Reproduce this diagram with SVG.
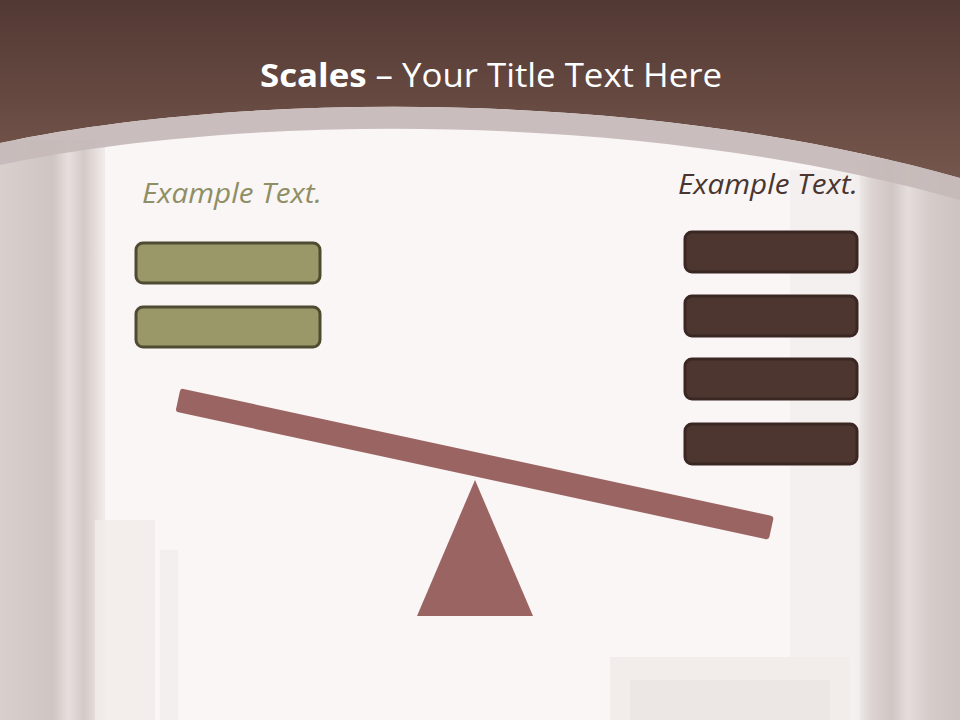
<svg xmlns="http://www.w3.org/2000/svg" width="960" height="720" viewBox="0 0 960 720">
<defs>
<linearGradient id="hdr" x1="0" y1="0" x2="0" y2="1">
<stop offset="0" stop-color="#523933"/>
<stop offset="1" stop-color="#7a5a50"/>
</linearGradient>
<linearGradient id="leftTex" x1="0" y1="0" x2="1" y2="0">
<stop offset="0" stop-color="#d9d0ce"/>
<stop offset="0.3" stop-color="#d3c9c7"/>
<stop offset="0.5" stop-color="#cfc5c3"/>
<stop offset="0.65" stop-color="#e6dfdd"/>
<stop offset="0.8" stop-color="#d4cac8"/>
<stop offset="1" stop-color="#f1ecea"/>
</linearGradient>
<linearGradient id="rightTex" x1="0" y1="0" x2="1" y2="0">
<stop offset="0" stop-color="#f3efee"/>
<stop offset="0.15" stop-color="#ddd5d3"/>
<stop offset="0.35" stop-color="#d0c6c4"/>
<stop offset="0.5" stop-color="#e4dddb"/>
<stop offset="0.7" stop-color="#d6cdcb"/>
<stop offset="1" stop-color="#cdc3c1"/>
</linearGradient>
<style>
.tl{font-family:"Open Sans","Liberation Sans",sans-serif;fill:#ffffff;font-size:33px}
.ex{font-family:"Open Sans","Liberation Sans",sans-serif;font-style:italic;font-size:27px}
.gb{fill:#9a9868;stroke:#4f4b32;stroke-width:3}
.bb{fill:#4e3630;stroke:#3a2622;stroke-width:3}
.sc{fill:#9a6462}
</style>
</defs>
<rect width="960" height="720" fill="#f9f6f5"/>
<!-- background texture -->
<rect x="0" y="140" width="105" height="580" fill="url(#leftTex)"/>
<rect x="95" y="520" width="60" height="200" fill="#f1ecea" opacity="0.8"/>
<rect x="160" y="550" width="18" height="170" fill="#f3efee"/>
<rect x="855" y="160" width="105" height="560" fill="url(#rightTex)"/>
<rect x="790" y="170" width="70" height="550" fill="#f3efee" opacity="0.8"/>
<rect x="610" y="657" width="240" height="63" fill="#f2edeb"/>
<rect x="630" y="680" width="200" height="40" fill="#e9e3e1" opacity="0.7"/>
<!-- header -->
<path d="M0,0 H960 V200 L960,178 C650,90 250,90 0,143 Z" fill="url(#hdr)"/>
<path d="M0,143 C250,90 650,90 960,178 L960,200 C650,112 250,112 0,165 Z" fill="#c6bbb9" opacity="0.95"/>
<text class="tl" x="491" y="87" text-anchor="middle" textLength="462" lengthAdjust="spacingAndGlyphs"><tspan font-weight="bold">Scales</tspan> – Your Title Text Here</text>
<g id="left-label"><text class="ex" x="232" y="203" text-anchor="middle" fill="#8f8e64" textLength="180" lengthAdjust="spacingAndGlyphs">Example Text.</text></g>
<g id="right-label"><text class="ex" x="768" y="194" text-anchor="middle" fill="#4a3530" textLength="180" lengthAdjust="spacingAndGlyphs">Example Text.</text></g>
<g id="left-box-1"><rect class="gb" x="136" y="243" width="184" height="40" rx="7"/></g>
<g id="left-box-2"><rect class="gb" x="136" y="307" width="184" height="40" rx="7"/></g>
<g id="right-box-1"><rect class="bb" x="685" y="232" width="172" height="40" rx="7"/></g>
<g id="right-box-2"><rect class="bb" x="685" y="296" width="172" height="40" rx="7"/></g>
<g id="right-box-3"><rect class="bb" x="685" y="359" width="172" height="40" rx="7"/></g>
<g id="right-box-4"><rect class="bb" x="685" y="424" width="172" height="40" rx="7"/></g>
<g id="beam"><rect class="sc" x="0" y="-12" width="607" height="24" rx="3" transform="translate(178,400) rotate(12.18)"/></g>
<g id="fulcrum"><polygon class="sc" points="475,480 533,616 417,616"/></g>
<g id="connectors"></g>
</svg>
